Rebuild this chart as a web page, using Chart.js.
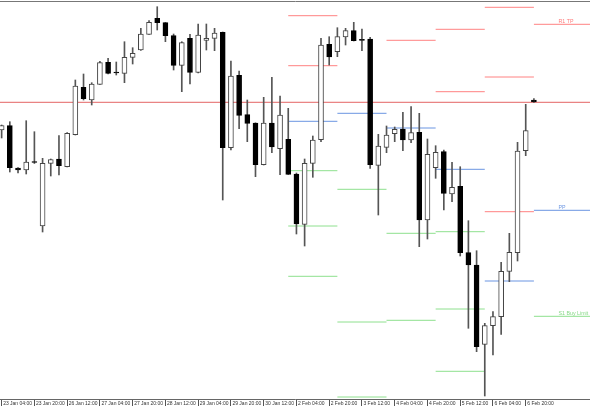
<!DOCTYPE html>
<html>
<head>
<meta charset="utf-8">
<title>H4 com pivôs diários</title>
<script src="https://cdn.jsdelivr.net/npm/chart.js@4.4.0/dist/chart.umd.min.js"></script>
<style>
    html, body { margin: 0; padding: 0; background: #fff; }
    canvas { display: block; }
</style>
</head>
<body>
<canvas id="grafico" width="590" height="410"></canvas>
<script>
// Rótulos do eixo de tempo (um a cada 4 barras H4)
const tickLabels = ['23 Jan 04:00', '23 Jan 20:00', '26 Jan 12:00', '27 Jan 04:00', '27 Jan 20:00',
    '28 Jan 12:00', '29 Jan 04:00', '29 Jan 20:00', '30 Jan 12:00', '2 Feb 04:00', '2 Feb 20:00',
    '3 Feb 12:00', '4 Feb 04:00', '4 Feb 20:00', '5 Feb 12:00', '6 Feb 04:00', '6 Feb 20:00'];
const tickStep = 4;

// Velas H4 (índice 0 = 23 Jan 04:00)
const opens = [
    1.13700, 1.13743, 1.13320, 1.13300, 1.13385, 1.12740, 1.13367, 1.13410, 1.13333, 1.13653,
    1.14127, 1.14000, 1.14157, 1.14377, 1.14280, 1.14267, 1.14427, 1.14500, 1.14657, 1.14817,
    1.14773, 1.14643, 1.14347, 1.14617, 1.14277, 1.14597, 1.14617, 1.14677, 1.13523, 1.14247,
    1.13853, 1.13770, 1.13353, 1.13770, 1.13513, 1.13607, 1.13260, 1.12757, 1.13367, 1.13603,
    1.14557, 1.14483, 1.14630, 1.14693, 1.14607, 1.14610, 1.13347, 1.13527, 1.13663, 1.13710,
    1.13600, 1.13677, 1.12800, 1.13323, 1.13483, 1.13060, 1.13137, 1.12473, 1.12350, 1.11557,
    1.11743, 1.11833, 1.12287, 1.12473, 1.13493, 1.14000];
const highs = [
    1.13750, 1.13783, 1.13325, 1.13793, 1.13683, 1.13417, 1.13410, 1.13643, 1.13675, 1.14200,
    1.14260, 1.14173, 1.14387, 1.14417, 1.14380, 1.14583, 1.14523, 1.14717, 1.14793, 1.14933,
    1.14775, 1.14660, 1.14583, 1.14657, 1.14760, 1.14760, 1.14717, 1.14680, 1.14390, 1.14290,
    1.14000, 1.13772, 1.14027, 1.14227, 1.14040, 1.13917, 1.13270, 1.13410, 1.13640, 1.14617,
    1.14633, 1.14723, 1.14717, 1.14777, 1.14710, 1.14627, 1.13657, 1.13740, 1.13730, 1.13877,
    1.13933, 1.13867, 1.13610, 1.13543, 1.13500, 1.13377, 1.13333, 1.12793, 1.12493, 1.11767,
    1.11883, 1.12377, 1.12667, 1.13577, 1.13957, 1.14013];
const lows = [
    1.13620, 1.13280, 1.13270, 1.13260, 1.13365, 1.12680, 1.13240, 1.13250, 1.13330, 1.13650,
    1.14000, 1.13950, 1.14155, 1.14260, 1.14250, 1.14173, 1.14360, 1.14495, 1.14655, 1.14700,
    1.14583, 1.14300, 1.14083, 1.14160, 1.14270, 1.14500, 1.14493, 1.13000, 1.13500, 1.13713,
    1.13583, 1.13233, 1.13350, 1.13473, 1.13253, 1.13255, 1.12660, 1.12540, 1.13227, 1.13583,
    1.14350, 1.14433, 1.14550, 1.14590, 1.14493, 1.13317, 1.12850, 1.13473, 1.13583, 1.13493,
    1.13573, 1.12533, 1.12610, 1.13217, 1.12900, 1.12983, 1.12440, 1.11717, 1.11483, 1.11040,
    1.11450, 1.11657, 1.12183, 1.12390, 1.13443, 1.13977];
const closes = [
    1.13745, 1.13323, 1.13300, 1.13380, 1.13375, 1.13367, 1.13405, 1.13343, 1.13667, 1.14140,
    1.14013, 1.14160, 1.14373, 1.14267, 1.14272, 1.14427, 1.14467, 1.14660, 1.14777, 1.14773,
    1.14643, 1.14347, 1.14573, 1.14277, 1.14650, 1.14617, 1.14670, 1.13523, 1.14240, 1.13847,
    1.13767, 1.13353, 1.13770, 1.13530, 1.13850, 1.13257, 1.12760, 1.13367, 1.13600, 1.14550,
    1.14430, 1.14633, 1.14693, 1.14593, 1.14597, 1.13353, 1.13540, 1.13650, 1.13707, 1.13600,
    1.13673, 1.12800, 1.13457, 1.13477, 1.13067, 1.13127, 1.12473, 1.12350, 1.11533, 1.11743,
    1.11833, 1.12287, 1.12477, 1.13490, 1.13693, 1.13980];

// Pivôs diários (2, 3, 4, 5, 6 e 9 Feb); null = fora da tela
const dayStart = [35, 41, 47, 53, 59, 65];
const dayEnd = [41, 47, 53, 59, 65, 72];
const pivotR3 = [null, null, null, null, 1.14927, null];
const pivotR2 = [1.14843, null, null, 1.14707, 1.14230, null];
const pivotR1 = [1.14343, null, 1.14597, 1.14083, 1.12883, 1.14757];
const pivotPP = [1.13787, 1.13867, 1.13720, 1.13307, 1.12190, 1.12897];
const pivotS1 = [1.13293, 1.13107, 1.12667, 1.12683, null, 1.11837];
const pivotS2 = [1.12740, 1.11780, 1.11797, 1.11910, null, null];
const pivotS3 = [1.12237, 1.11030, null, 1.11287, null, null];

const bidPrice = 1.13977;

const corVermelho = '#ff8282';
const corAzul = '#6b95e2';
const corVerde = '#8ee08e';
const corBid = '#e46464';

const xMin = -0.2;
const xMax = 71.85;

// Transformar níveis em segmentos por dia
function segmentos(niveis) {
    const pts = [];
    niveis.forEach((v, d) => {
        if (v === null) return;
        pts.push({ x: dayStart[d], y: v }, { x: dayEnd[d], y: v }, { x: dayEnd[d], y: null });
    });
    return pts;
}

function linhaPivo(niveis, cor) {
    return {
        type: 'line',
        data: segmentos(niveis),
        borderColor: cor,
        borderWidth: 1,
        pointRadius: 0,
        spanGaps: false,
        order: 5
    };
}

const wicks = highs.map((h, i) => ({ x: i, y: [lows[i], h] }));
const bodies = opens.map((o, i) => ({ x: i, y: [o, closes[i]] }));
const alta = opens.map((o, i) => closes[i] >= o);

// Rótulos à direita
const pivotLabels = [
    { text: 'R1 TP', niveis: pivotR1, cor: '#ff7a7a' },
    { text: 'PP', niveis: pivotPP, cor: '#6b95e2' },
    { text: 'S1 Buy Limit', niveis: pivotS1, cor: '#86d886' }
];
const labelAt = 68;

const rotulosPlugin = {
    id: 'rotulosPivo',
    afterDatasetsDraw(chart) {
        const ctx = chart.ctx;
        const xs = chart.scales.x;
        const ys = chart.scales.y;
        ctx.save();
        ctx.font = '5.3px "Liberation Sans", Arial, sans-serif';
        ctx.textAlign = 'left';
        ctx.textBaseline = 'alphabetic';
        pivotLabels.forEach(l => {
            const v = l.niveis[l.niveis.length - 1];
            ctx.fillStyle = l.cor;
            ctx.fillText(l.text, xs.getPixelForValue(labelAt), ys.getPixelForValue(v) - 1.5);
        });
        ctx.restore();
    }
};

new Chart(document.getElementById('grafico'), {
    type: 'bar',
    data: {
        datasets: [
            {
                data: bodies,
                grouped: false,
                barThickness: 5,
                backgroundColor: alta.map(a => a ? '#ffffff' : '#000000'),
                borderColor: alta.map(a => a ? '#444444' : '#000000'),
                borderWidth: 1,
                borderSkipped: false,
                order: 0
            },
            {
                data: wicks,
                grouped: false,
                barThickness: 1,
                backgroundColor: '#555555',
                borderWidth: 0,
                order: 1
            },
            linhaPivo(pivotR3, corVermelho),
            linhaPivo(pivotR2, corVermelho),
            linhaPivo(pivotR1, corVermelho),
            linhaPivo(pivotPP, corAzul),
            linhaPivo(pivotS1, corVerde),
            linhaPivo(pivotS2, corVerde),
            linhaPivo(pivotS3, corVerde),
            {
                type: 'line',
                data: [{ x: xMin, y: bidPrice }, { x: xMax, y: bidPrice }],
                borderColor: corBid,
                borderWidth: 1,
                pointRadius: 0,
                order: 4
            }
        ]
    },
    options: {
        responsive: false,
        animation: false,
        devicePixelRatio: 1,
        layout: { padding: 0 },
        plugins: {
            legend: { display: false },
            tooltip: { enabled: false }
        },
        scales: {
            x: {
                type: 'linear',
                position: 'bottom',
                min: xMin,
                max: xMax,
                offset: false,
                grid: {
                    offset: false,
                    drawOnChartArea: false,
                    drawTicks: true,
                    tickLength: 7,
                    color: '#555555'
                },
                border: { display: true, color: '#666666', width: 1 },
                ticks: {
                    autoSkip: false,
                    maxRotation: 0,
                    minRotation: 0,
                    align: 'start',
                    labelOffset: 1.5,
                    padding: -5.5,
                    color: '#333333',
                    font: { family: '"Liberation Sans", Arial, sans-serif', size: 5 },
                    callback: function(value) {
                        return tickLabels[value / tickStep] || '';
                    }
                },
                afterBuildTicks: function(scale) {
                    scale.ticks = tickLabels.map((t, k) => ({ value: k * tickStep }));
                },
                afterFit: function(scale) {
                    scale.height = 11;
                }
            },
            xTop: {
                type: 'linear',
                position: 'top',
                min: xMin,
                max: xMax,
                grid: { display: false, drawTicks: false },
                ticks: { display: false },
                border: { display: true, color: '#777777', width: 1 },
                afterFit: function(scale) {
                    scale.height = 1;
                }
            },
            y: {
                display: false,
                min: 1.1101,
                max: 1.1499
            }
        }
    },
    plugins: [rotulosPlugin]
});
</script>
</body>
</html>
